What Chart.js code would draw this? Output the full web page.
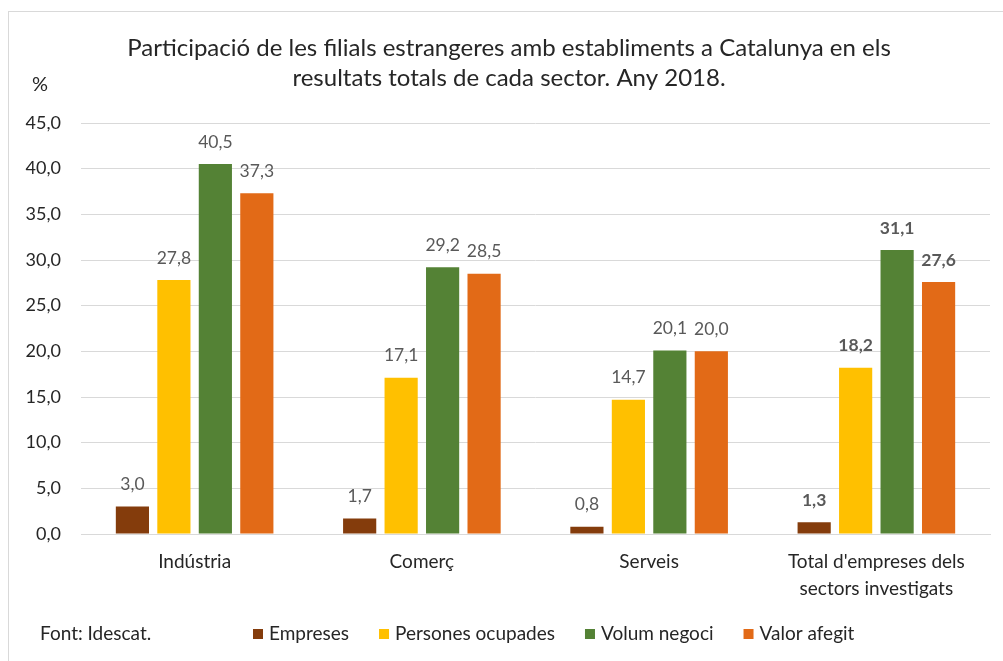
<!DOCTYPE html>
<html lang="ca">
<head>
    <meta charset="UTF-8">
    <title>Filials estrangeres a Catalunya</title>
    <script src="https://cdn.jsdelivr.net/npm/chart.js"></script>
    <style>
        body { margin: 0; background: #ffffff; }
        .wrap { position: relative; width: 1003px; height: 661px; }
    </style>
</head>
<body>
    <div class="wrap"><canvas id="chart"></canvas></div>

    <script>
        const sectors = ["Indústria", "Comerç", "Serveis", ["Total d'empreses dels", "sectors investigats"]];
        const seriesNames = ["Empreses", "Persones ocupades", "Volum negoci", "Valor afegit"];
        const seriesColors = ["#843C0C", "#FFC000", "#548235", "#E26A17"];
        const empreses = [3.0, 1.7, 0.8, 1.3];
        const persones = [27.8, 17.1, 14.7, 18.2];
        const volum = [40.5, 29.2, 20.1, 31.1];
        const valor = [37.3, 28.5, 20.0, 27.6];
        const titleLines = ["Participació de les filials estrangeres amb establiments a Catalunya en els", "resultats totals de cada sector. Any 2018."];
        const sourceText = "Font: Idescat.";

        const FONT = "Lato, 'Open Sans', Arial, sans-serif";
        const fmt = v => v.toFixed(1).replace(".", ",");

        // etiquetes, títol, llegenda i marc
        const extras = {
            id: "extras",
            beforeDraw(chart) {
                const ctx = chart.ctx;
                ctx.save();
                ctx.strokeStyle = "#D9D9D9";
                ctx.lineWidth = 1;
                ctx.strokeRect(8.5, 11.5, 1100, 700);
                ctx.restore();
            },
            afterDatasetsDraw(chart) {
                const ctx = chart.ctx;
                ctx.save();
                ctx.textAlign = "center";
                ctx.textBaseline = "middle";
                ctx.fillStyle = "#595959";
                chart.data.datasets.forEach((ds, di) => {
                    chart.getDatasetMeta(di).data.forEach((bar, i) => {
                        ctx.font = (i === 3 ? "bold " : "") + "17.5px " + FONT;
                        ctx.fillText(fmt(ds.data[i]), bar.x, bar.y - 22);
                    });
                });
                ctx.restore();
            },
            afterDraw(chart) {
                const ctx = chart.ctx;
                ctx.save();
                ctx.fillStyle = "#262626";
                ctx.textAlign = "center";
                ctx.textBaseline = "middle";
                ctx.font = "24px " + FONT;
                ctx.fillText(titleLines[0], 509, 48);
                ctx.fillText(titleLines[1], 509, 78);
                ctx.font = "20px " + FONT;
                ctx.fillText("%", 40, 85);

                // llegenda
                ctx.font = "19px " + FONT;
                ctx.textAlign = "left";
                ctx.fillText(sourceText, 40, 634);
                let x = 253;
                chart.data.datasets.forEach(ds => {
                    ctx.fillStyle = ds.backgroundColor;
                    ctx.fillRect(x, 629, 10, 10);
                    ctx.fillStyle = "#262626";
                    ctx.fillText(ds.label, x + 16, 634);
                    x += 16 + ctx.measureText(ds.label).width + 30;
                });
                ctx.restore();
            }
        };

        new Chart(document.getElementById("chart"), {
            type: "bar",
            data: {
                labels: sectors,
                datasets: [empreses, persones, volum, valor].map((d, i) => ({
                    label: seriesNames[i],
                    data: d,
                    backgroundColor: seriesColors[i],
                    categoryPercentage: 0.73,
                    barPercentage: 0.8
                }))
            },
            options: {
                responsive: true,
                maintainAspectRatio: false,
                animation: false,
                layout: { padding: { top: 123, right: 13, bottom: 47, left: 0 } },
                plugins: {
                    legend: { display: false },
                    tooltip: { enabled: false }
                },
                scales: {
                    x: {
                        grid: { display: false },
                        border: { color: "#D9D9D9" },
                        ticks: { color: "#262626", font: { family: FONT, size: 19, lineHeight: 1.42 }, padding: 6, maxRotation: 0 },
                        afterFit: s => { s.height = 80; }
                    },
                    y: {
                        min: 0,
                        max: 45,
                        grid: { color: "#D9D9D9", drawTicks: false },
                        border: { display: false },
                        ticks: { stepSize: 5, color: "#262626", font: { family: FONT, size: 18 }, padding: 20, callback: v => fmt(v) },
                        afterFit: s => { s.width = 81; }
                    }
                }
            },
            plugins: [extras]
        });
    </script>
</body>
</html>
